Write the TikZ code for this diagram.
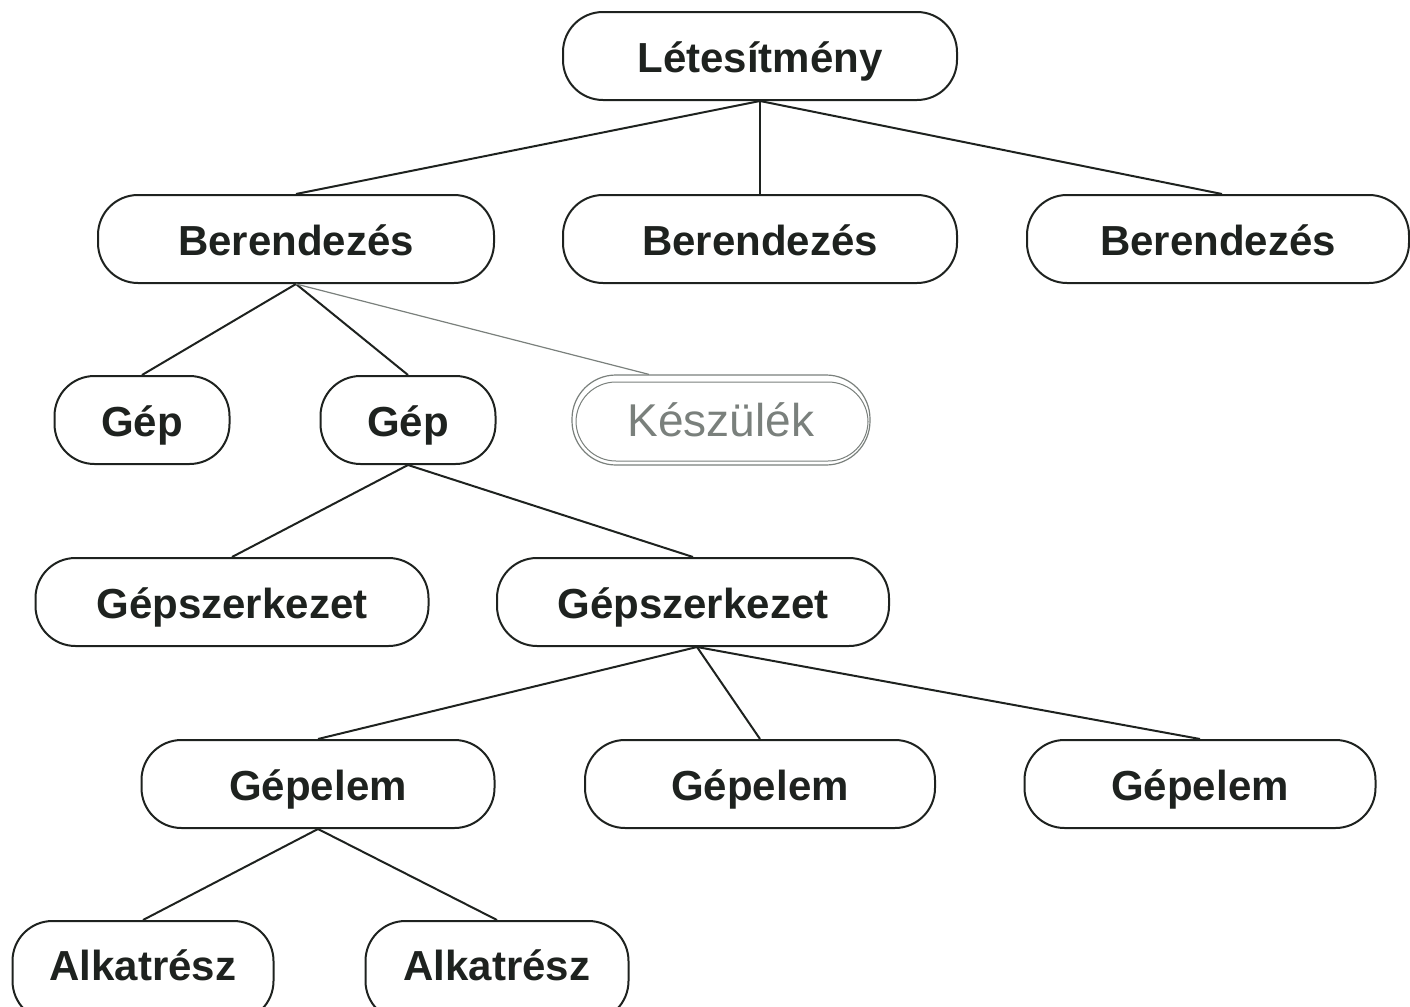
\documentclass[tikz,border=0pt]{standalone}
\usepackage{fontspec}
\setmainfont{Liberation Sans}
\usetikzlibrary{calc}
\definecolor{ink}{HTML}{1E221F}
\definecolor{pencil}{HTML}{7A807C}
\tikzset{
  box/.style={draw=ink, line width=1pt, rounded corners=20pt, minimum height=44pt,
    inner sep=0pt, text height=16pt, text depth=0pt, text=ink,
    font=\fontsize{21}{25}\selectfont\bfseries},
  link/.style={draw=ink, line width=1pt},
  pencillink/.style={draw=pencil, line width=0.6pt},
}
\begin{document}
\begin{tikzpicture}[x=0.5pt,y=-0.5pt]
\path[use as bounding box] (0,0) rectangle (1410,1007);
\clip (0,0) rectangle (1410,1007);
% nodes
\node[box, minimum width=197pt] (L)  at (760,56)  {Létesítmény};
\node[box, minimum width=198pt] (B1) at (296,239) {Berendezés};
\node[box, minimum width=197pt] (B2) at (760,239) {Berendezés};
\node[box, minimum width=191pt] (B3) at (1218,239) {Berendezés};
\node[box, minimum width=87.5pt] (G1) at (142,420) {Gép};
\node[box, minimum width=87.5pt] (G2) at (408,420) {Gép};
\node[draw=pencil, line width=0.6pt, rounded corners=22pt, minimum width=149pt, minimum height=45pt,
      inner sep=0pt, text height=16pt, text depth=0pt, text=pencil,
      font=\fontsize{23}{27}\selectfont] (K) at (721,420) {Készülék};
\draw[pencil, line width=0.5pt, rounded corners=20pt] (576,382) rectangle (868,461);
\node[box, minimum width=196.5pt] (S1) at (232,602) {Gépszerkezet};
\node[box, minimum width=196pt] (S2) at (693,602) {Gépszerkezet};
\node[box, minimum width=176.5pt] (E1) at (318,784) {Gépelem};
\node[box, minimum width=175pt] (E2) at (760,784) {Gépelem};
\node[box, minimum width=175.5pt] (E3) at (1200,784) {Gépelem};
\node[box, minimum width=130.5pt, minimum height=50pt, anchor=north] (A1) at (143,920) {};
\node[text=ink, inner sep=0pt, text height=16pt, text depth=0pt,
      font=\fontsize{21}{25}\selectfont\bfseries] (A1t) at (143,964) {Alkatrész};
\node[box, minimum width=131.5pt, minimum height=50pt, anchor=north] (A2) at (497,920) {};
\node[text=ink, inner sep=0pt, text height=16pt, text depth=0pt,
      font=\fontsize{21}{25}\selectfont\bfseries] (A2t) at (497,964) {Alkatrész};
% connectors
\draw[link] (L.south) -- (B1.north);
\draw[link] (L.south) -- (B2.north);
\draw[link] (L.south) -- ([xshift=2pt]B3.north);
\draw[link] (B1.south) -- (G1.north);
\draw[link] (B1.south) -- (G2.north);
\draw[pencillink] (B1.south) -- ([xshift=-36pt]K.north);
\draw[link] (G2.south) -- (S1.north);
\draw[link] (G2.south) -- (S2.north);
\draw[link] ([xshift=2pt]S2.south) -- (E1.north);
\draw[link] ([xshift=2pt]S2.south) -- (E2.north);
\draw[link] ([xshift=2pt]S2.south) -- (E3.north);
\draw[link] (E1.south) -- (A1.north);
\draw[link] (E1.south) -- (A2.north);
\end{tikzpicture}
\end{document}
